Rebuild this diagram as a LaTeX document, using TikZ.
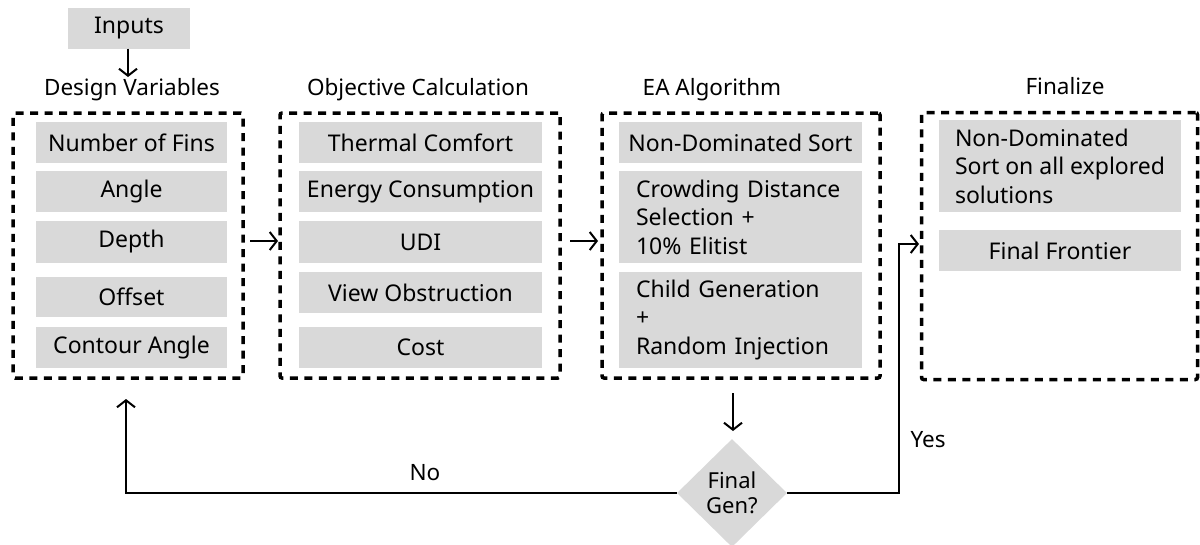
\documentclass[tikz,border=0pt]{standalone}
\usepackage{fontspec}
\setmainfont{Noto Sans}
\usetikzlibrary{arrows.meta,shapes.geometric}
\definecolor{boxgray}{HTML}{D9D9D9}
\tikzset{
  gbox/.style={fill=boxgray, inner sep=0pt, minimum height=41pt, font=\fontsize{23}{27}\selectfont},
  lbox/.style={fill=boxgray, inner sep=0pt, align=left, font=\fontsize{23}{28.5}\selectfont},
  frame/.style={draw=black, line width=3.5pt, dash pattern=on 8pt off 6.5pt, rounded corners=2pt},
  heading/.style={font=\fontsize{22.5}{27}\selectfont},
  lab/.style={font=\fontsize{22.5}{27}\selectfont},
  conn/.style={line width=2pt, -{Straight Barb[length=7pt,width=18pt,line width=2pt]}},
}
\begin{document}
\begin{tikzpicture}[x=1pt,y=-1pt]
\useasboundingbox (0,0) rectangle (1200,544);
% Inputs
\node[gbox, minimum width=122pt, minimum height=41pt] (inputs) at (129,28) {Inputs};
\node[heading] (h1) at (132,90) {Design Variables};
\node[heading] (h2) at (418,90) {Objective Calculation};
\node[heading] (h3) at (712,90) {EA Algorithm};
\node[heading] (h4) at (1065,86) {Finalize};
% frames
\node[frame, minimum width=230pt, minimum height=265pt, inner sep=0pt] (f1) at (128,245.5) {};
\node[frame, minimum width=280pt, minimum height=265pt, inner sep=0pt] (f2) at (420,245.5) {};
\node[frame, minimum width=278pt, minimum height=265pt, inner sep=0pt] (f3) at (741,245.5) {};
\node[frame, minimum width=276pt, minimum height=267pt, inner sep=0pt] (f4) at (1059.5,246) {};
% box1
\node[gbox, minimum width=191pt] (b11) at (131.5,142.5) {Number of Fins};
\node[gbox, minimum width=191pt] (b12) at (131.5,191.5) {Angle};
\node[gbox, minimum width=191pt, minimum height=42pt] (b13) at (131.5,242) {Depth};
\node[gbox, minimum width=191pt, minimum height=40pt] (b14) at (131.5,297) {Offset};
\node[gbox, minimum width=191pt] (b15) at (131.5,347.5) {Contour Angle};
% box2
\node[gbox, minimum width=243pt] (b21) at (420.5,142.5) {Thermal Comfort};
\node[gbox, minimum width=243pt] (b22) at (420.5,191.5) {Energy Consumption};
\node[gbox, minimum width=243pt, minimum height=42pt] (b23) at (420.5,242) {UDI};
\node[gbox, minimum width=243pt] (b24) at (420.5,292.5) {View Obstruction};
\node[gbox, minimum width=243pt] (b25) at (420.5,347.5) {Cost};
% box3
\node[gbox, minimum width=243pt] (b31) at (740.5,142.5) {Non-Dominated Sort};
\node[lbox, minimum width=243pt, minimum height=92pt, text width=209pt] (b32) at (740.5,217) {Crowding Distance\\Selection +\\10\% Elitist};
\node[lbox, minimum width=243pt, minimum height=96pt, text width=209pt] (b33) at (740.5,320) {Child Generation\\+\\Random Injection};
% box4
\node[lbox, minimum width=242pt, minimum height=92pt] (b41) at (1060,166) {Non-Dominated\\Sort on all explored\\solutions};
\node[gbox, minimum width=242pt] (b42) at (1060,250.5) {Final Frontier};
% diamond
\node[diamond, fill=boxgray, minimum width=110pt, minimum height=108pt, inner sep=0pt, align=center, font=\fontsize{22}{25.5}\selectfont] (dec) at (732,493) {Final\\Gen?};
% coordinates
\coordinate (a1s) at (128,49);
\coordinate (a1e) at (128,77);
\coordinate (a2s) at (250,241);
\coordinate (a2e) at (278,241);
\coordinate (a3s) at (570,241);
\coordinate (a3e) at (598,241);
\coordinate (a4s) at (733,393);
\coordinate (a4e) at (733,431);
\coordinate (noend) at (126,399);
\coordinate (yesend) at (919,244);
% connectors
\draw[conn] (inputs.south -| a1s) -- (a1e);
\draw[conn] (a2s) -- (a2e);
\draw[conn] (a3s) -- (a3e);
\draw[conn] (a4s) -- (a4e);
\draw[conn] (dec.west) -- (126,493) -- (noend);
\draw[conn] (dec.east) -- (899,493) -- (899,244) -- (yesend);
\node[lab] (no) at (425,473) {No};
\node[lab, anchor=west] (yes) at (907,440) {Yes};
\end{tikzpicture}
\end{document}
